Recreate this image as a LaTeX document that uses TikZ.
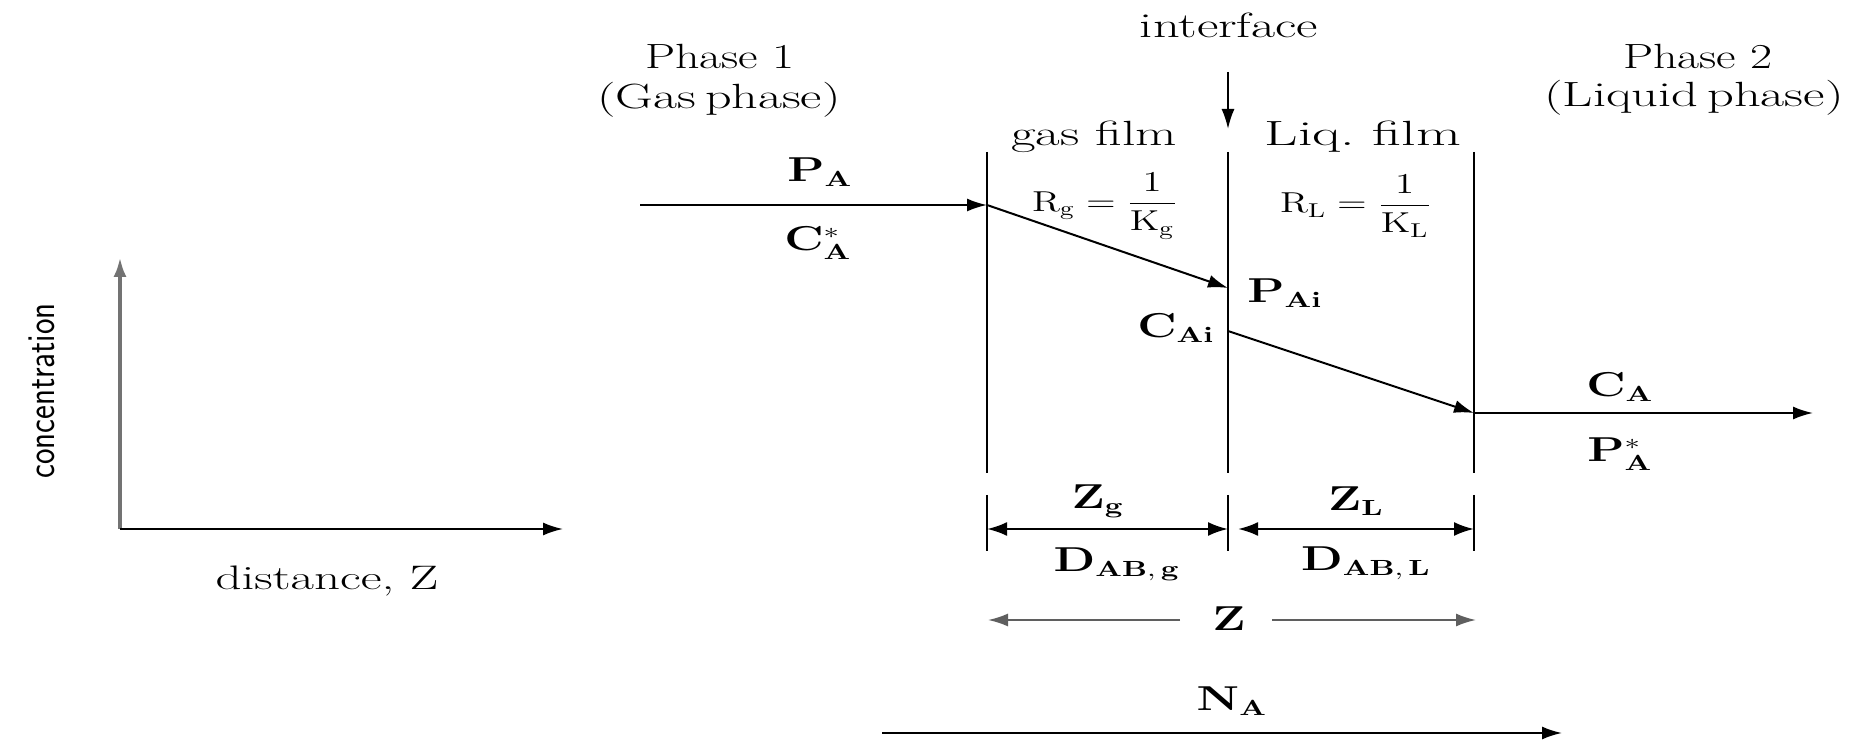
\documentclass[tikz,border=0pt]{standalone}
\usetikzlibrary{arrows.meta}
\definecolor{AxisGray}{RGB}{115,115,115}
\definecolor{DimGray}{RGB}{95,95,95}
\tikzset{
  tip/.style={-{Latex[length=10pt,width=6.5pt]}},
  film/.style={line width=1pt},
  flow/.style={tip,line width=1pt},
  dimarrow/.style={{Latex[length=10pt,width=7pt]}-{Latex[length=10pt,width=7pt]},line width=1.2pt},
  zarrow/.style={tip,line width=1pt,DimGray},
  lbl/.style={font=\fontsize{17.5}{20}\selectfont,inner sep=1pt,xscale=1.45},
  sym/.style={font=\fontsize{16}{18}\selectfont,inner sep=1pt,xscale=1.4},
  res/.style={font=\fontsize{14.4}{17}\selectfont,inner sep=1pt,xscale=1.35}
}

\begin{document}
\begin{tikzpicture}[x=0.5pt,y=-0.5pt]
  \useasboundingbox (0,0) rectangle (1852,742);

  % axes
  \coordinate (origin) at (120,529);
  \coordinate (ytop) at (120,257);
  \coordinate (xend) at (563,529);
  \draw[tip,line width=2.2pt,AxisGray] (origin) -- (ytop);
  \draw[tip,line width=1pt] (origin) -- (xend);
  \node[font=\sffamily\fontsize{16.5}{19}\selectfont,inner sep=1pt,xscale=1.2,rotate=90]
    (conc) at (42,391) {concentration};
  \node[lbl,font=\fontsize{17}{20}\selectfont,xscale=1.5/1.45] (dist) at (327,581) {distance, Z};

  % film boundaries
  \coordinate (g1) at (987,152);  \coordinate (g2) at (987,473);
  \coordinate (i1) at (1228,152); \coordinate (i2) at (1228,473);
  \coordinate (l1) at (1474,152); \coordinate (l2) at (1474,473);
  \draw[film] (g1) -- (g2) (i1) -- (i2) (l1) -- (l2);
  \foreach \x in {987,1228,1474}
    \draw[film] (\x,495) -- (\x,551);

  % headings
  \node[lbl,xscale=1.5/1.45] (iface) at (1229,25) {interface};
  \coordinate (ifacetop) at (1228,72);
  \coordinate (ifaceend) at (1228,129);
  \draw[flow] (ifacetop) -- (ifaceend);
  \node[lbl,xscale=1.37/1.45] (ph1) at (720,57) {Phase 1};
  \node[lbl,xscale=1.49/1.45] (gasph) at (719,100) {(Gas\,phase)};
  \node[lbl,xscale=1.37/1.45] (ph2) at (1698,57) {Phase 2};
  \node[lbl,xscale=1.5/1.45] (liqph) at (1694,98) {(Liquid\,phase)};
  \node[lbl,xscale=1.53/1.45] (gfilm) at (1094,137) {gas film};
  \node[lbl,xscale=1.66/1.45] (lfilm) at (1363,137) {Liq.\ film};
  \node[res] (rg) at (1105,206) {$\mathrm{R_g}={\displaystyle\frac{1}{\mathrm{K_g}}}$};
  \node[res] (rl) at (1356,206) {$\mathrm{R_L}={\displaystyle\frac{1}{\mathrm{K_L}}}$};

  % concentration profile
  \coordinate (bulkg) at (640,205);
  \coordinate (pa) at (987,205);
  \coordinate (pai) at (1228,288);
  \coordinate (cai) at (1228,331);
  \coordinate (ca) at (1474,413);
  \coordinate (bulkl) at (1813,413);
  \draw[flow] (bulkg) -- (pa);
  \draw[flow] (pa) -- (pai);
  \draw[flow] (cai) -- (ca);
  \draw[flow] (ca) -- (bulkl);
  \node[sym] (palbl) at (820,172) {$\mathbf{P_{A}}$};
  \node[sym] (castar) at (818,243) {$\mathbf{C_{A}^{*}}$};
  \node[sym] (pailbl) at (1285,293) {$\mathbf{P_{Ai}}$};
  \node[sym] (cailbl) at (1176,328) {$\mathbf{C_{Ai}}$};
  \node[sym] (calbl) at (1620,387) {$\mathbf{C_{A}}$};
  \node[sym] (pastar) at (1620,454) {$\mathbf{P_{A}^{*}}$};

  % film thicknesses
  \draw[dimarrow] (987,529) -- (1228,529);
  \draw[dimarrow] (1238,529) -- (1474,529);
  \node[sym] (zg) at (1098,501) {$\mathbf{Z_{g}}$};
  \node[sym] (zl) at (1356,501) {$\mathbf{Z_{L}}$};
  \node[sym] (dg) at (1117,564) {$\mathbf{D_{AB,\,g}}$};
  \node[sym] (dl) at (1366,563) {$\mathbf{D_{AB,\,L}}$};

  % total thickness and flux
  \node[sym] (ztot) at (1229,619) {$\mathbf{Z}$};
  \coordinate (zleft) at (988,620);
  \coordinate (zright) at (1476,620);
  \draw[zarrow] (1180,620) -- (zleft);
  \draw[zarrow] (1272,620) -- (zright);
  \node[sym] (na) at (1232,701) {$\mathbf{N_{A}}$};
  \coordinate (nastart) at (882,733);
  \coordinate (naend) at (1562,733);
  \draw[flow] (nastart) -- (naend);
\end{tikzpicture}
\end{document}
